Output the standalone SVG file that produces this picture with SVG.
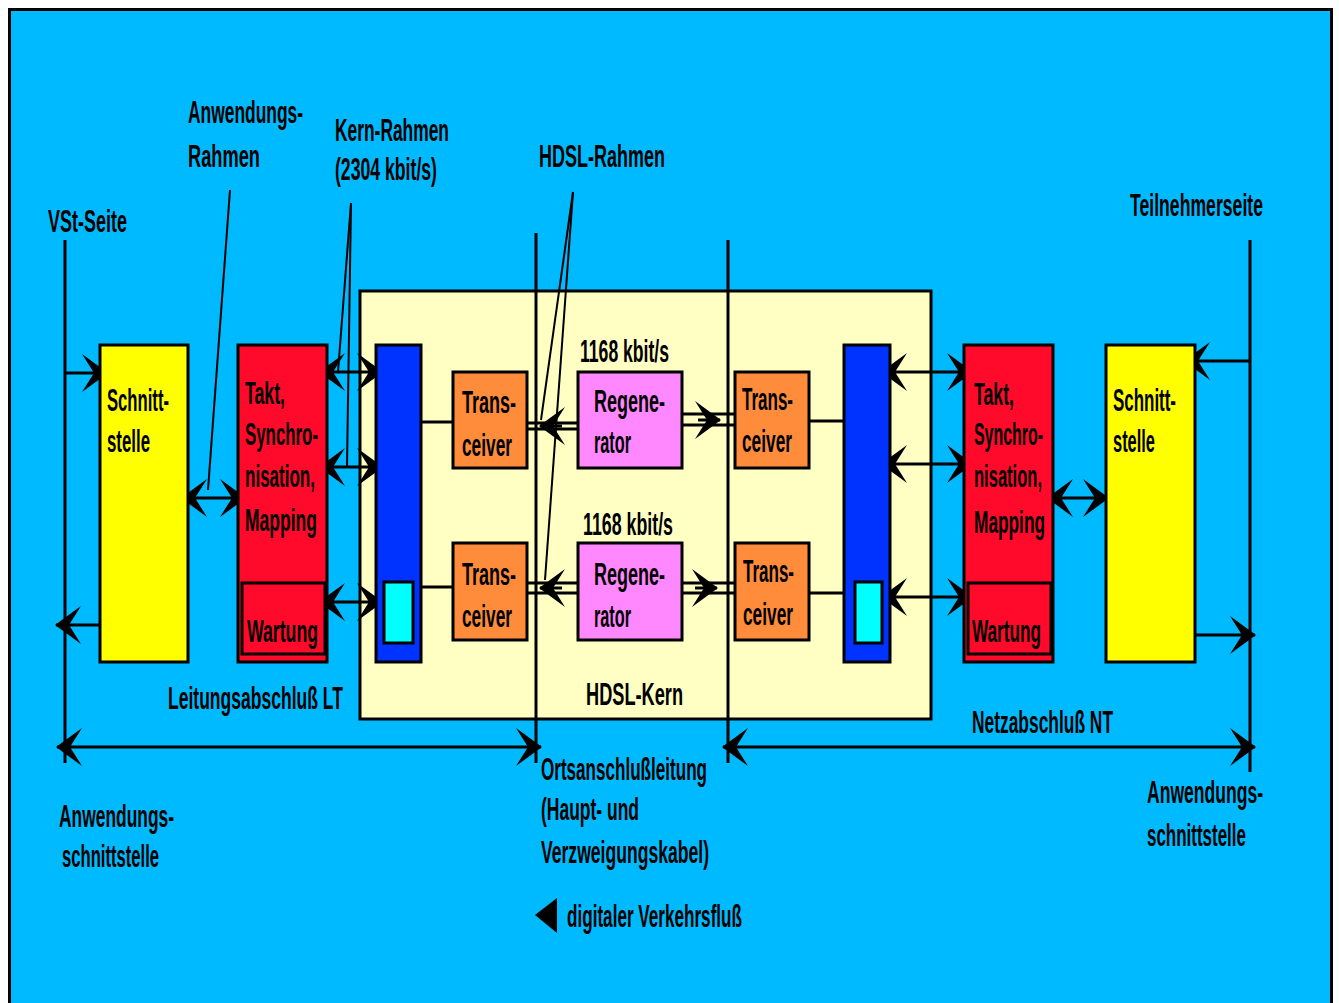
<svg xmlns="http://www.w3.org/2000/svg" width="1339" height="1003" viewBox="0 0 1339 1003">
<style>
.t{font-family:"Liberation Sans",Arial,sans-serif;font-weight:bold;font-size:18px;fill:#000}
.box{stroke:#000;stroke-width:3}
.ln{stroke:#000;stroke-width:3;fill:none}
.thin{stroke:#000;stroke-width:2;fill:none}
.ar{stroke:#000;stroke-width:3;fill:none;marker-end:url(#ah)}
.dar{stroke:#000;stroke-width:3;fill:none;marker-start:url(#ah);marker-end:url(#ah)}
</style>
<defs>
<marker id="ah" viewBox="-28 -21 30 42" refX="0" refY="0" markerWidth="30" markerHeight="42" markerUnits="userSpaceOnUse" orient="auto-start-reverse">
<path d="M1,0 L-25,-19 L-13,0 L-25,19 Z" fill="#000"/>
</marker>
</defs>
<rect x="0" y="0" width="1339" height="1003" fill="#fff"/>
<rect id="frame" x="9.5" y="9.5" width="1322" height="1000" fill="#00BAFF" stroke="#000" stroke-width="3"/>

<g id="core">
<rect x="360" y="291" width="571" height="428" fill="#FFFFC4" class="box"/>
<text class="t" x="586" y="705" transform="matrix(1 0 0 1.75 0 -528.75)" textLength="97" lengthAdjust="spacingAndGlyphs">HDSL-Kern</text>
</g>

<g id="connectors">
<line class="ln" x1="65" y1="240" x2="65" y2="763"/>
<line class="ln" x1="536" y1="233" x2="536" y2="763"/>
<line class="ln" x1="728" y1="240" x2="728" y2="763"/>
<line class="ln" x1="1250" y1="240" x2="1250" y2="772"/>
<line class="thin" x1="230" y1="190" x2="208" y2="490"/>
<line class="thin" x1="351" y1="203" x2="338" y2="372"/>
<line class="thin" x1="351" y1="203" x2="347" y2="467"/>
<line class="thin" x1="573" y1="192" x2="541" y2="420"/>
<line class="thin" x1="573" y1="192" x2="545" y2="580"/>
<line class="ar" x1="65" y1="373" x2="107" y2="373"/>
<line class="ar" x1="100" y1="625" x2="56" y2="625"/>
<line class="dar" x1="182" y1="498" x2="245" y2="498"/>
<line class="dar" x1="320" y1="372" x2="382" y2="372"/>
<line class="dar" x1="320" y1="467" x2="382" y2="467"/>
<line class="dar" x1="320" y1="602" x2="382" y2="602"/>
<line class="dar" x1="882" y1="372" x2="972" y2="372"/>
<line class="dar" x1="882" y1="464" x2="972" y2="464"/>
<line class="dar" x1="882" y1="597" x2="972" y2="597"/>
<line class="dar" x1="1048" y1="498" x2="1108" y2="498"/>
<line class="ar" x1="1250" y1="361" x2="1185" y2="361"/>
<line class="ar" x1="1195" y1="635" x2="1255" y2="635"/>
<line class="dar" x1="57" y1="747" x2="541" y2="747"/>
<line class="dar" x1="723" y1="747" x2="1255" y2="747"/>
<line class="ln" x1="421" y1="422" x2="453" y2="422"/>
<line class="ln" x1="421" y1="587" x2="453" y2="587"/>
<line class="ln" x1="809" y1="421" x2="844" y2="421"/>
<line class="ln" x1="809" y1="593" x2="844" y2="593"/>
<line class="ln" x1="527" y1="423" x2="578" y2="423"/>
<line class="ln" x1="527" y1="429" x2="578" y2="429"/>
<line class="ar" x1="562" y1="426" x2="540" y2="426"/>
<line class="ln" x1="682" y1="414" x2="735" y2="414"/>
<line class="ln" x1="682" y1="425" x2="735" y2="425"/>
<line class="ar" x1="698" y1="420" x2="720" y2="420"/>
<line class="ln" x1="527" y1="583" x2="578" y2="583"/>
<line class="ln" x1="527" y1="593" x2="578" y2="593"/>
<line class="ar" x1="562" y1="588" x2="540" y2="588"/>
<line class="ln" x1="682" y1="583" x2="735" y2="583"/>
<line class="ln" x1="682" y1="593" x2="735" y2="593"/>
<line class="ar" x1="695" y1="588" x2="717" y2="588"/>
</g>

<g id="schnittstelle-left">
<rect x="100" y="345" width="88" height="317" fill="#FFFF00" class="box"/>
<text class="t" x="107" y="411" transform="matrix(1 0 0 1.75 0 -308.25)" textLength="62" lengthAdjust="spacingAndGlyphs">Schnitt-</text>
<text class="t" x="107" y="452" transform="matrix(1 0 0 1.75 0 -339)" textLength="43" lengthAdjust="spacingAndGlyphs">stelle</text>
</g>

<g id="takt-left">
<rect x="238" y="345" width="89" height="317" fill="#FF0A2A" class="box"/>
<text class="t" x="245" y="404" transform="matrix(1 0 0 1.75 0 -303)" textLength="40" lengthAdjust="spacingAndGlyphs">Takt,</text>
<text class="t" x="245" y="445" transform="matrix(1 0 0 1.75 0 -333.75)" textLength="73" lengthAdjust="spacingAndGlyphs">Synchro-</text>
<text class="t" x="245" y="487" transform="matrix(1 0 0 1.75 0 -365.25)" textLength="70" lengthAdjust="spacingAndGlyphs">nisation,</text>
<text class="t" x="245" y="531" transform="matrix(1 0 0 1.75 0 -398.25)" textLength="72" lengthAdjust="spacingAndGlyphs">Mapping</text>
</g>
<g id="wartung-left">
<rect x="242" y="583" width="83" height="71" fill="#FF0A2A" class="box"/>
<text class="t" x="247" y="642" transform="matrix(1 0 0 1.75 0 -481.5)" textLength="71" lengthAdjust="spacingAndGlyphs">Wartung</text>
</g>

<g id="bus-left">
<rect x="376" y="345" width="45" height="317" fill="#0033FF" class="box"/>
<rect x="384" y="582" width="29" height="61" fill="#00FFFF" class="box"/>
</g>

<g id="transceiver-1">
<rect x="453" y="372" width="74" height="96" fill="#FF8C3A" class="box"/>
<text class="t" x="462" y="413" transform="matrix(1 0 0 1.75 0 -309.75)" textLength="54" lengthAdjust="spacingAndGlyphs">Trans-</text>
<text class="t" x="462" y="456" transform="matrix(1 0 0 1.75 0 -342)" textLength="50" lengthAdjust="spacingAndGlyphs">ceiver</text>
</g>
<g id="transceiver-2">
<rect x="453" y="543" width="74" height="97" fill="#FF8C3A" class="box"/>
<text class="t" x="462" y="585" transform="matrix(1 0 0 1.75 0 -438.75)" textLength="54" lengthAdjust="spacingAndGlyphs">Trans-</text>
<text class="t" x="462" y="627" transform="matrix(1 0 0 1.75 0 -470.25)" textLength="50" lengthAdjust="spacingAndGlyphs">ceiver</text>
</g>

<g id="regenerator-1">
<rect x="578" y="372" width="104" height="96" fill="#FF88FF" class="box"/>
<text class="t" x="594" y="412" transform="matrix(1 0 0 1.75 0 -309)" textLength="71" lengthAdjust="spacingAndGlyphs">Regene-</text>
<text class="t" x="594" y="453" transform="matrix(1 0 0 1.75 0 -339.75)" textLength="37" lengthAdjust="spacingAndGlyphs">rator</text>
<text class="t" x="580" y="362" transform="matrix(1 0 0 1.75 0 -271.5)" textLength="89" lengthAdjust="spacingAndGlyphs">1168 kbit/s</text>
</g>
<g id="regenerator-2">
<rect x="578" y="543" width="104" height="97" fill="#FF88FF" class="box"/>
<text class="t" x="594" y="585" transform="matrix(1 0 0 1.75 0 -438.75)" textLength="71" lengthAdjust="spacingAndGlyphs">Regene-</text>
<text class="t" x="594" y="627" transform="matrix(1 0 0 1.75 0 -470.25)" textLength="37" lengthAdjust="spacingAndGlyphs">rator</text>
<text class="t" x="583" y="535" transform="matrix(1 0 0 1.75 0 -401.25)" textLength="90" lengthAdjust="spacingAndGlyphs">1168 kbit/s</text>
</g>

<g id="transceiver-3">
<rect x="735" y="372" width="74" height="96" fill="#FF8C3A" class="box"/>
<text class="t" x="742" y="410" transform="matrix(1 0 0 1.75 0 -307.5)" textLength="51" lengthAdjust="spacingAndGlyphs">Trans-</text>
<text class="t" x="742" y="452" transform="matrix(1 0 0 1.75 0 -339)" textLength="50" lengthAdjust="spacingAndGlyphs">ceiver</text>
</g>
<g id="transceiver-4">
<rect x="735" y="543" width="74" height="97" fill="#FF8C3A" class="box"/>
<text class="t" x="743" y="582" transform="matrix(1 0 0 1.75 0 -436.5)" textLength="51" lengthAdjust="spacingAndGlyphs">Trans-</text>
<text class="t" x="743" y="625" transform="matrix(1 0 0 1.75 0 -468.75)" textLength="50" lengthAdjust="spacingAndGlyphs">ceiver</text>
</g>

<g id="bus-right">
<rect x="844" y="345" width="46" height="317" fill="#0033FF" class="box"/>
<rect x="855" y="582" width="27" height="61" fill="#00FFFF" class="box"/>
</g>

<g id="takt-right">
<rect x="964" y="345" width="89" height="317" fill="#FF0A2A" class="box"/>
<text class="t" x="974" y="405" transform="matrix(1 0 0 1.75 0 -303.75)" textLength="40" lengthAdjust="spacingAndGlyphs">Takt,</text>
<text class="t" x="974" y="445" transform="matrix(1 0 0 1.75 0 -333.75)" textLength="69" lengthAdjust="spacingAndGlyphs">Synchro-</text>
<text class="t" x="974" y="487" transform="matrix(1 0 0 1.75 0 -365.25)" textLength="68" lengthAdjust="spacingAndGlyphs">nisation,</text>
<text class="t" x="974" y="533" transform="matrix(1 0 0 1.75 0 -399.75)" textLength="71" lengthAdjust="spacingAndGlyphs">Mapping</text>
</g>
<g id="wartung-right">
<rect x="968" y="583" width="83" height="71" fill="#FF0A2A" class="box"/>
<text class="t" x="972" y="642" transform="matrix(1 0 0 1.75 0 -481.5)" textLength="69" lengthAdjust="spacingAndGlyphs">Wartung</text>
</g>

<g id="schnittstelle-right">
<rect x="1106" y="345" width="89" height="317" fill="#FFFF00" class="box"/>
<text class="t" x="1113" y="411" transform="matrix(1 0 0 1.75 0 -308.25)" textLength="63" lengthAdjust="spacingAndGlyphs">Schnitt-</text>
<text class="t" x="1113" y="452" transform="matrix(1 0 0 1.75 0 -339)" textLength="42" lengthAdjust="spacingAndGlyphs">stelle</text>
</g>

<g id="labels">
<text class="t" x="188" y="123" transform="matrix(1 0 0 1.75 0 -92.25)" textLength="115" lengthAdjust="spacingAndGlyphs">Anwendungs-</text>
<text class="t" x="188" y="167" transform="matrix(1 0 0 1.75 0 -125.25)" textLength="72" lengthAdjust="spacingAndGlyphs">Rahmen</text>
<text class="t" x="335" y="141" transform="matrix(1 0 0 1.75 0 -105.75)" textLength="114" lengthAdjust="spacingAndGlyphs">Kern-Rahmen</text>
<text class="t" x="335" y="180" transform="matrix(1 0 0 1.75 0 -135)" textLength="102" lengthAdjust="spacingAndGlyphs">(2304 kbit/s)</text>
<text class="t" x="48" y="232" transform="matrix(1 0 0 1.75 0 -174)" textLength="79" lengthAdjust="spacingAndGlyphs">VSt-Seite</text>
<text class="t" x="539" y="167" transform="matrix(1 0 0 1.75 0 -125.25)" textLength="126" lengthAdjust="spacingAndGlyphs">HDSL-Rahmen</text>
<text class="t" x="1130" y="216" transform="matrix(1 0 0 1.75 0 -162)" textLength="133" lengthAdjust="spacingAndGlyphs">Teilnehmerseite</text>
<text class="t" x="168" y="709" transform="matrix(1 0 0 1.75 0 -531.75)" textLength="175" lengthAdjust="spacingAndGlyphs">Leitungsabschluß LT</text>
<text class="t" x="972" y="733" transform="matrix(1 0 0 1.75 0 -549.75)" textLength="141" lengthAdjust="spacingAndGlyphs">Netzabschluß NT</text>
<text class="t" x="541" y="780" transform="matrix(1 0 0 1.75 0 -585)" textLength="166" lengthAdjust="spacingAndGlyphs">Ortsanschlußleitung</text>
<text class="t" x="541" y="820" transform="matrix(1 0 0 1.75 0 -615)" textLength="98" lengthAdjust="spacingAndGlyphs">(Haupt- und</text>
<text class="t" x="541" y="863" transform="matrix(1 0 0 1.75 0 -647.25)" textLength="168" lengthAdjust="spacingAndGlyphs">Verzweigungskabel)</text>
<polygon points="535,915 557,898 557,933" fill="#000"/>
<text class="t" x="567" y="927" transform="matrix(1 0 0 1.75 0 -695.25)" textLength="175" lengthAdjust="spacingAndGlyphs">digitaler Verkehrsfluß</text>
<text class="t" x="59" y="827" transform="matrix(1 0 0 1.75 0 -620.25)" textLength="115" lengthAdjust="spacingAndGlyphs">Anwendungs-</text>
<text class="t" x="62" y="867" transform="matrix(1 0 0 1.75 0 -650.25)" textLength="97" lengthAdjust="spacingAndGlyphs">schnittstelle</text>
<text class="t" x="1147" y="803" transform="matrix(1 0 0 1.75 0 -602.25)" textLength="116" lengthAdjust="spacingAndGlyphs">Anwendungs-</text>
<text class="t" x="1147" y="846" transform="matrix(1 0 0 1.75 0 -634.5)" textLength="99" lengthAdjust="spacingAndGlyphs">schnittstelle</text>
</g>
</svg>
